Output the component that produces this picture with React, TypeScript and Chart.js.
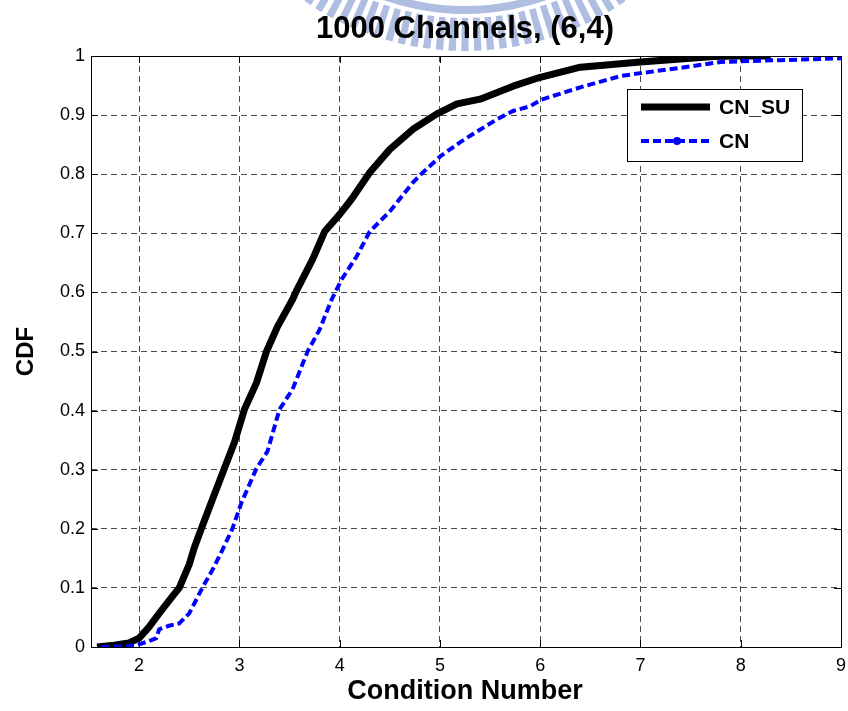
import { useEffect, useRef } from "react";
import { Chart, registerables } from "chart.js";

Chart.register(...registerables);

// Empirical CDF of the condition number over 1000 channel realisations, (6,4) setup
const cnSuX = [1.58, 1.75, 1.9, 2.0, 2.1, 2.2, 2.32, 2.4, 2.5, 2.55, 2.62, 2.73, 2.85, 2.95, 3.05, 3.17, 3.27, 3.38, 3.53, 3.57, 3.73, 3.85, 4.0, 4.12, 4.3, 4.5, 4.73, 4.97, 5.17, 5.4, 5.73, 6.0, 6.4, 7.0, 7.4, 7.73, 8.0, 8.3];
const cnSuY = [0, 0.003, 0.007, 0.015, 0.034, 0.057, 0.083, 0.1, 0.14, 0.168, 0.2, 0.249, 0.302, 0.346, 0.402, 0.447, 0.5, 0.542, 0.588, 0.603, 0.656, 0.703, 0.732, 0.758, 0.803, 0.842, 0.876, 0.902, 0.919, 0.927, 0.949, 0.964, 0.981, 0.99, 0.995, 0.999, 1.0, 1.0];

const cnX = [1.63, 1.8, 1.97, 2.1, 2.17, 2.2, 2.3, 2.4, 2.5, 2.57, 2.63, 2.73, 2.83, 2.93, 3.02, 3.17, 3.28, 3.4, 3.53, 3.68, 3.8, 3.92, 4.02, 4.17, 4.3, 4.5, 4.73, 4.83, 5.01, 5.2, 5.33, 5.57, 5.73, 5.9, 6.01, 6.4, 6.8, 7.0, 7.4, 7.8, 8.4, 9.0];
const cnY = [0, 0.001, 0.003, 0.01, 0.015, 0.03, 0.036, 0.04, 0.057, 0.08, 0.1, 0.13, 0.164, 0.2, 0.244, 0.302, 0.331, 0.402, 0.436, 0.5, 0.537, 0.588, 0.622, 0.661, 0.703, 0.737, 0.786, 0.803, 0.831, 0.854, 0.868, 0.893, 0.907, 0.915, 0.926, 0.947, 0.966, 0.971, 0.98, 0.99, 0.993, 0.996];

const xTickValues = [2, 3, 4, 5, 6, 7, 8, 9];
const yTickValues = [0, 0.1, 0.2, 0.3, 0.4, 0.5, 0.6, 0.7, 0.8, 0.9, 1];
const yTickLabels = ["0", "0.1", "0.2", "0.3", "0.4", "0.5", "0.6", "0.7", "0.8", "0.9", "1"];

const seriesLabels = ["CN_SU", "CN"];
const titleText = "1000 Channels, (6,4)";
const xAxisLabel = "Condition Number";
const yAxisLabel = "CDF";

const FONT = "'Liberation Sans', Arial, Helvetica, sans-serif";
const BLUE = "#0000ff";

const toPoints = (xs: number[], ys: number[]) => xs.map((x, i) => ({ x, y: ys[i] }));

// Faint seal drawn behind the title
const sealPlugin = {
  id: "seal",
  beforeDraw(chart: any) {
    const ctx = chart.ctx;
    const cx = 465;
    const cy = -232;
    ctx.save();
    ctx.fillStyle = "#aebde0";
    const rIn = 250;
    const rOut = 283;
    const pitch = (2.6 * Math.PI) / 180;
    const bar = (1.5 * Math.PI) / 180;
    for (let a = Math.PI / 2 - 40 * pitch; a < Math.PI / 2 + 40 * pitch; a += pitch) {
      const a0 = a - bar / 2;
      const a1 = a + bar / 2;
      ctx.beginPath();
      ctx.arc(cx, cy, rOut, a0, a1);
      ctx.arc(cx, cy, rIn, a1, a0, true);
      ctx.closePath();
      ctx.fill();
    }
    ctx.beginPath();
    ctx.arc(cx, cy, 246, 0, Math.PI);
    ctx.arc(cx, cy, 238, Math.PI, 0, true);
    ctx.closePath();
    ctx.fill();
    ctx.restore();
  },
};

// Axes box with inward tick marks on all four sides
const framePlugin = {
  id: "frame",
  afterDatasetsDraw(chart: any) {
    const { ctx, chartArea: a, scales } = chart;
    const len = 7;
    ctx.save();
    ctx.strokeStyle = "#000";
    ctx.lineWidth = 1;
    ctx.setLineDash([]);
    ctx.beginPath();
    for (const v of xTickValues) {
      const px = Math.round(scales.x.getPixelForValue(v)) + 0.5;
      ctx.moveTo(px, a.bottom);
      ctx.lineTo(px, a.bottom - len);
      ctx.moveTo(px, a.top);
      ctx.lineTo(px, a.top + len);
    }
    for (const v of yTickValues) {
      const py = Math.round(scales.y.getPixelForValue(v)) + 0.5;
      ctx.moveTo(a.left, py);
      ctx.lineTo(a.left + len, py);
      ctx.moveTo(a.right, py);
      ctx.lineTo(a.right - len, py);
    }
    ctx.stroke();
    ctx.strokeRect(Math.round(a.left) + 0.5, Math.round(a.top) + 0.5, Math.round(a.right - a.left), Math.round(a.bottom - a.top));
    ctx.restore();
  },
};

// Legend box, title and axis labels
const textPlugin = {
  id: "texts",
  afterDraw(chart: any) {
    const ctx = chart.ctx;
    const a = chart.chartArea;
    ctx.save();

    // legend
    const bx = 627;
    const by = 89;
    const bw = 175;
    const bh = 72;
    ctx.fillStyle = "#fff";
    ctx.fillRect(bx, by, bw, bh);
    ctx.strokeStyle = "#000";
    ctx.lineWidth = 1;
    ctx.strokeRect(bx + 0.5, by + 0.5, bw, bh);

    const rows = [107, 141];
    ctx.lineCap = "butt";
    ctx.beginPath();
    ctx.strokeStyle = "#000";
    ctx.lineWidth = 7;
    ctx.moveTo(641, rows[0]);
    ctx.lineTo(710, rows[0]);
    ctx.stroke();

    ctx.beginPath();
    ctx.strokeStyle = BLUE;
    ctx.lineWidth = 4;
    ctx.setLineDash([8, 4]);
    ctx.moveTo(641, rows[1]);
    ctx.lineTo(710, rows[1]);
    ctx.stroke();
    ctx.setLineDash([]);
    ctx.fillStyle = BLUE;
    ctx.beginPath();
    ctx.arc(677, rows[1], 4, 0, Math.PI * 2);
    ctx.fill();

    ctx.fillStyle = "#000";
    ctx.font = `bold 21px ${FONT}`;
    ctx.textAlign = "left";
    ctx.textBaseline = "middle";
    ctx.fillText(seriesLabels[0], 719, rows[0] + 1);
    ctx.fillText(seriesLabels[1], 719, rows[1] + 1);

    // title
    ctx.textAlign = "center";
    ctx.textBaseline = "alphabetic";
    ctx.font = `bold 31px ${FONT}`;
    ctx.fillText(titleText, 465, 38);

    // x label
    ctx.font = `bold 27px ${FONT}`;
    ctx.fillText(xAxisLabel, 465, 699);

    // y label
    ctx.translate(33, (a.top + a.bottom) / 2);
    ctx.rotate(-Math.PI / 2);
    ctx.font = `bold 24px ${FONT}`;
    ctx.fillText(yAxisLabel, 0, 0);

    ctx.restore();
  },
};

export default function App() {
  const canvasRef = useRef<HTMLCanvasElement | null>(null);

  useEffect(() => {
    const canvas = canvasRef.current;
    if (!canvas) return;
    const gridColor = "#4a4a4a";
    const chart = new Chart(canvas, {
      type: "line",
      data: {
        datasets: [
          {
            label: seriesLabels[0],
            data: toPoints(cnSuX, cnSuY),
            borderColor: "#000",
            backgroundColor: "#000",
            borderWidth: 7,
            pointRadius: 0,
            tension: 0,
            borderJoinStyle: "round",
            order: 2,
          },
          {
            label: seriesLabels[1],
            data: toPoints(cnX, cnY),
            borderColor: BLUE,
            backgroundColor: BLUE,
            borderWidth: 4,
            borderDash: [8, 4],
            pointRadius: 0,
            tension: 0,
            order: 1,
          },
        ],
      },
      options: {
        responsive: false,
        animation: false,
        devicePixelRatio: 1,
        layout: { padding: { top: 56, right: 7, left: 0, bottom: 0 } },
        plugins: {
          legend: { display: false },
          tooltip: { enabled: false },
          title: { display: false },
        },
        scales: {
          x: {
            type: "linear",
            min: 1.52,
            max: 9,
            afterBuildTicks: (s: any) => {
              s.ticks = xTickValues.map((v) => ({ value: v }));
            },
            afterFit: (s: any) => {
              s.height = 64;
              s.paddingLeft = 0;
              s.paddingRight = 0;
            },
            ticks: {
              autoSkip: false,
              maxRotation: 0,
              padding: 8,
              color: "#000",
              font: { family: FONT, size: 18 },
              callback: (v: any) => String(v),
            },
            grid: { color: gridColor, lineWidth: 1, drawTicks: false },
            border: { display: false, dash: [6, 4] },
          },
          y: {
            type: "linear",
            min: 0,
            max: 1,
            afterBuildTicks: (s: any) => {
              s.ticks = yTickValues.map((v) => ({ value: v }));
            },
            afterFit: (s: any) => {
              s.width = 91;
              s.paddingTop = 0;
              s.paddingBottom = 0;
            },
            ticks: {
              autoSkip: false,
              padding: 6,
              color: "#000",
              font: { family: FONT, size: 18 },
              callback: (v: any) => {
                const i = yTickValues.findIndex((t) => Math.abs(t - v) < 1e-9);
                return i >= 0 ? yTickLabels[i] : "";
              },
            },
            grid: { color: gridColor, lineWidth: 1, drawTicks: false },
            border: { display: false, dash: [6, 4] },
          },
        },
      },
      plugins: [sealPlugin, framePlugin, textPlugin],
    });
    return () => chart.destroy();
  }, []);

  return (
    <div style={{ position: "fixed", left: 0, top: 0, width: 848, height: 711, background: "#fff" }}>
      <canvas ref={canvasRef} width={848} height={711} />
    </div>
  );
}
